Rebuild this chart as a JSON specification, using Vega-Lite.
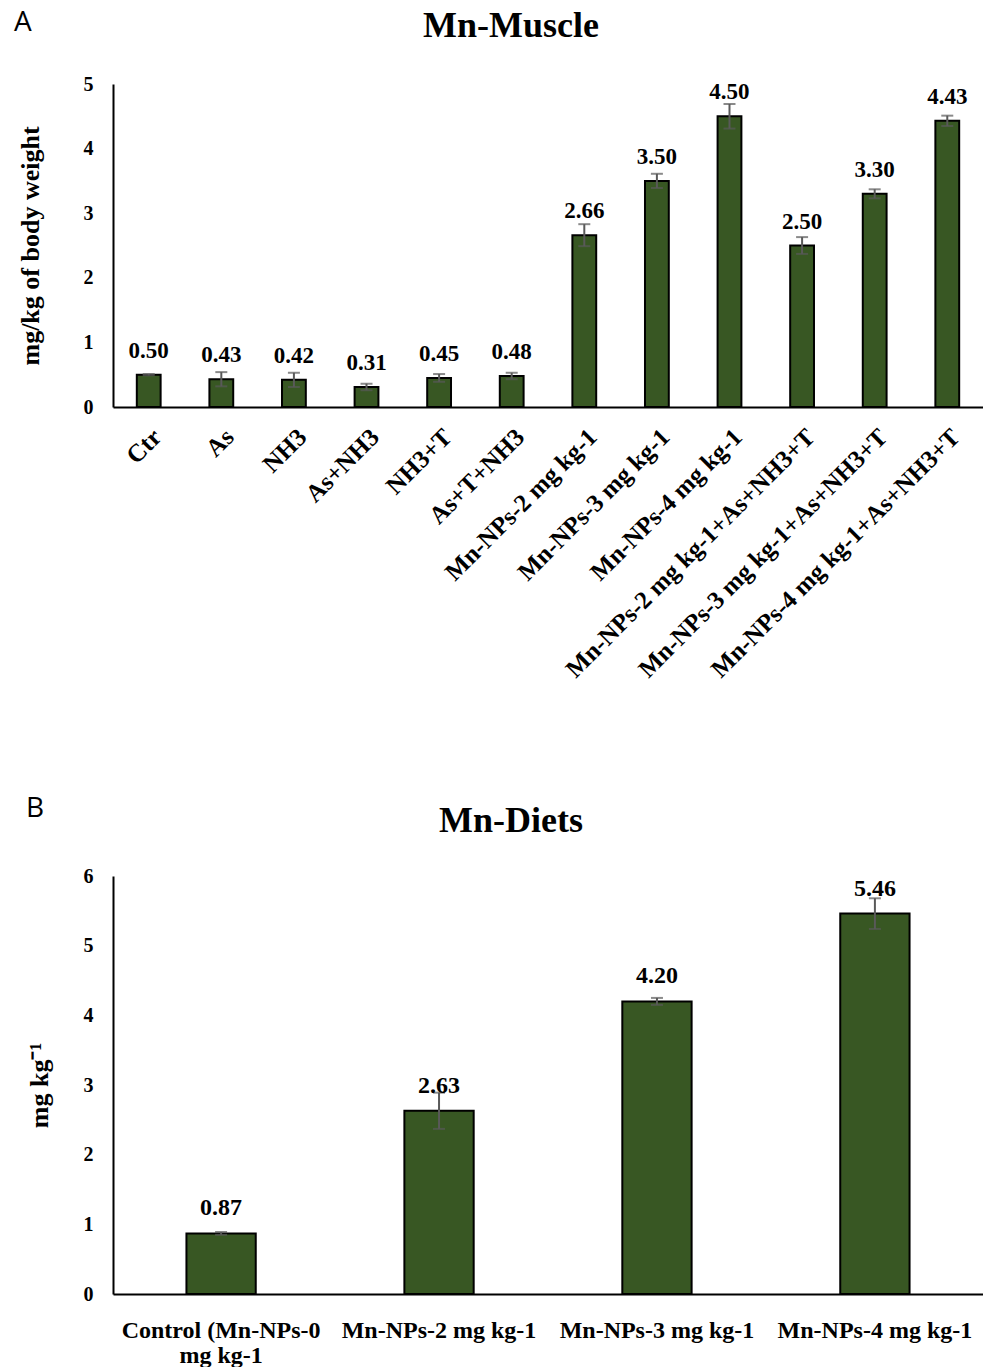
{
  "$schema": "https://vega.github.io/schema/vega-lite/v6.json",
  "background": "white",
  "padding": {"left": 14, "top": 8, "right": 0, "bottom": 0},
  "config": {
    "view": {"stroke": null},
    "font": "Liberation Serif",
    "axis": {"domainColor": "black", "domainWidth": 2, "ticks": false, "grid": false, "labelFont": "Liberation Serif", "labelFontWeight": "bold", "labelColor": "black", "titleFont": "Liberation Serif", "titleFontWeight": "bold", "titleColor": "black"},
    "title": {"font": "Liberation Serif", "fontWeight": "bold", "color": "black"}
  },
  "spacing": 112,
  "vconcat": [
    {
      "title": {"text": "A", "anchor": "start", "font": "Open Sans", "fontWeight": "normal", "fontSize": 28, "dy": 33, "dx": -3},
      "vconcat": [
        {
          "width": 870,
          "height": 323,
          "title": {"text": "Mn-Muscle", "fontSize": 36, "anchor": "middle", "offset": 29, "dx": -37},
          "data": {"values": [
            {"group": "Ctr", "value": 0.50, "err": 0.01},
            {"group": "As", "value": 0.43, "err": 0.11},
            {"group": "NH3", "value": 0.42, "err": 0.11},
            {"group": "As+NH3", "value": 0.31, "err": 0.05},
            {"group": "NH3+T", "value": 0.45, "err": 0.06},
            {"group": "As+T+NH3", "value": 0.48, "err": 0.05},
            {"group": "Mn-NPs-2 mg kg-1", "value": 2.66, "err": 0.17},
            {"group": "Mn-NPs-3 mg kg-1", "value": 3.50, "err": 0.11},
            {"group": "Mn-NPs-4 mg kg-1", "value": 4.50, "err": 0.19},
            {"group": "Mn-NPs-2 mg kg-1+As+NH3+T", "value": 2.50, "err": 0.13},
            {"group": "Mn-NPs-3 mg kg-1+As+NH3+T", "value": 3.30, "err": 0.07},
            {"group": "Mn-NPs-4 mg kg-1+As+NH3+T", "value": 4.43, "err": 0.08}
          ]},
          "encoding": {
            "x": {"field": "group", "type": "nominal", "sort": null, "title": null,
                  "scale": {"paddingInner": 0.672, "paddingOuter": 0.328},
                  "axis": {"labelAngle": -45, "labelFontSize": 25, "labelPadding": 17, "labelLimit": 500}},
            "y": {"field": "value", "type": "quantitative", "title": "mg/kg of body weight",
                  "scale": {"domain": [0, 5], "nice": false},
                  "axis": {"values": [0, 1, 2, 3, 4, 5], "labelFontSize": 20, "labelPadding": 20, "titleFontSize": 26, "titlePadding": 40}}
          },
          "layer": [
            {"mark": {"type": "bar", "fill": "#385723", "stroke": "black", "strokeWidth": 2}},
            {"mark": {"type": "errorbar", "ticks": true, "size": 12, "thickness": 2, "color": "#595959"},
             "encoding": {"yError": {"field": "err"}}},
            {"mark": {"type": "text", "dy": -17, "baseline": "alphabetic", "fontSize": 23, "fontWeight": "bold", "color": "black"},
             "encoding": {"text": {"field": "value", "type": "quantitative", "format": ".2f"}}}
          ]
        }
      ]
    },
    {
      "title": {"text": "B", "anchor": "start", "font": "Open Sans", "fontWeight": "normal", "fontSize": 28, "dy": 24, "dx": 0},
      "vconcat": [
        {
          "width": 870,
          "height": 418,
          "title": {"text": "Mn-Diets", "fontSize": 36, "anchor": "middle", "offset": 26, "dx": -37},
          "data": {"values": [
            {"group": "Control (Mn-NPs-0 mg kg-1", "value": 0.87, "err": 0.02},
            {"group": "Mn-NPs-2 mg kg-1", "value": 2.63, "err": 0.26},
            {"group": "Mn-NPs-3 mg kg-1", "value": 4.20, "err": 0.05},
            {"group": "Mn-NPs-4 mg kg-1", "value": 5.46, "err": 0.22}
          ]},
          "encoding": {
            "x": {"field": "group", "type": "nominal", "sort": null, "title": null,
                  "scale": {"paddingInner": 0.682, "paddingOuter": 0.337},
                  "axis": {"labelAngle": 0, "labelFontSize": 24, "labelPadding": 24, "labelLimit": 500, "labelLineHeight": 25,
                           "labelExpr": "datum.label == 'Control (Mn-NPs-0 mg kg-1' ? ['Control (Mn-NPs-0', 'mg kg-1'] : datum.label"}},
            "y": {"field": "value", "type": "quantitative", "title": "mg kg⁻¹",
                  "scale": {"domain": [0, 6], "nice": false},
                  "axis": {"values": [0, 1, 2, 3, 4, 5, 6], "labelFontSize": 20, "labelPadding": 20, "titleFontSize": 26, "titlePadding": 31}}
          },
          "layer": [
            {"mark": {"type": "bar", "fill": "#385723", "stroke": "black", "strokeWidth": 2}},
            {"mark": {"type": "errorbar", "ticks": true, "size": 12, "thickness": 2, "color": "#595959"},
             "encoding": {"yError": {"field": "err"}}},
            {"mark": {"type": "text", "dy": -18, "baseline": "alphabetic", "fontSize": 24, "fontWeight": "bold", "color": "black"},
             "encoding": {"text": {"field": "value", "type": "quantitative", "format": ".2f"}}}
          ]
        }
      ]
    }
  ]
}
